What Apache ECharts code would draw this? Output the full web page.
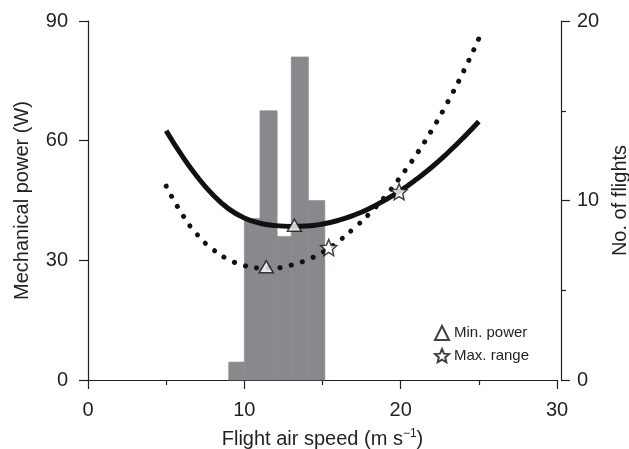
<!DOCTYPE html>
<html lang="en">
<head>
    <meta charset="UTF-8">
    <script src="https://cdn.jsdelivr.net/npm/echarts@6/dist/echarts.min.js"></script>
    <title>Mechanical power vs flight air speed</title>
    <style>
        html, body { margin: 0; padding: 0; background: #fff; }
        #main { width: 629px; height: 449px; }
    </style>
</head>
<body>
    <div id="main"></div>
    <script>
        // histogram of flights: [bin start, bin end, count]
        var flightBins = [
            [9, 10, 1],
            [10, 11, 9],
            [11, 12.1, 15],
            [12.1, 13, 8],
            [13, 14.1, 18],
            [14.1, 15.15, 10]
        ];

        // power curves: [speed, power]
        var solidCurve = [
            [5, 62.5], [6, 56.3], [7, 50.9], [8, 46.4], [9, 42.9], [10, 40.6], [11, 39.3],
            [12, 38.7], [13, 38.5], [14, 38.6], [15, 39.1], [16, 40], [17, 41.3],
            [18, 43], [19, 45.1], [20, 47.5], [21, 50.3], [22, 53.4], [23, 56.9],
            [24, 60.7], [25, 64.8]
        ];
        var dottedCurve = [
            [5, 48.6], [6, 41.7], [7, 36.4], [8, 32.7], [9, 30.2], [10, 28.7], [11, 28.1],
            [12, 28.1], [13, 28.8], [14, 30.1], [15, 32], [16, 34.7], [17, 38],
            [18, 41.7], [19, 46], [20, 51], [21, 56.5], [22, 62.7], [23, 69.6],
            [24, 77.2], [25, 85.6]
        ];

        var minPower = [[11.4, 28.4], [13.2, 38.8]];
        var maxRange = [[15.4, 33.2], [19.9, 47.2]];

        var ink = '#231f20';
        var font = 'Liberation Sans, Arial, Helvetica, sans-serif';
        var starPath = 'path://M50 0 L63.5 31.4 L97.55 34.55 L71.8 57 L79.39 90.45 L50 73 L20.61 90.45 L28.2 57 L2.45 34.55 L36.5 31.4 Z';

        var chart = echarts.init(document.getElementById('main'));

        var axisBase = {
            axisLine: { show: true, lineStyle: { color: ink, width: 1.2 } },
            axisTick: { show: true, length: 9, lineStyle: { color: ink, width: 1.2 } },
            axisLabel: { color: ink, fontSize: 20, fontFamily: font, margin: 16 },
            splitLine: { show: false },
            nameTextStyle: { color: ink, fontSize: 20, fontFamily: font }
        };

        var option = {
            animation: false,
            backgroundColor: '#fff',
            grid: { left: 88, right: 72, top: 21, bottom: 69, outerBoundsMode: 'none' },
            legend: {
                orient: 'vertical',
                left: 434,
                top: 325,
                padding: 0,
                itemWidth: 14,
                itemHeight: 14,
                itemGap: 7,
                textStyle: { color: ink, fontSize: 15, fontFamily: font },
                data: ['Min. power', 'Max. range']
            },
            xAxis: Object.assign({}, axisBase, {
                type: 'value',
                min: 0, max: 30, interval: 10,
                offset: 4,
                minorTick: { show: true, splitNumber: 2, length: 5, lineStyle: { color: ink, width: 1.2 } },
                name: '{a|Flight air speed (m s}{s|\u22121}{a|)}',
                nameLocation: 'middle',
                nameGap: 44,
                nameTextStyle: {
                    color: ink, fontFamily: font,
                    rich: {
                        a: { fontSize: 20, fontFamily: font, color: ink, lineHeight: 22 },
                        s: { fontSize: 12, fontFamily: font, color: ink, verticalAlign: 'top', lineHeight: 22 }
                    }
                }
            }),
            yAxis: [
                Object.assign({}, axisBase, {
                    type: 'value',
                    position: 'left',
                    min: 0, max: 90, interval: 30,
                    offset: 4,
                    name: 'Mechanical power (W)',
                    nameLocation: 'middle',
                    nameRotate: 90,
                    nameGap: 52
                }),
                Object.assign({}, axisBase, {
                    type: 'value',
                    position: 'right',
                    min: 0, max: 20, interval: 10,
                    offset: 4,
                    minorTick: { show: true, splitNumber: 2, length: 5, lineStyle: { color: ink, width: 1.2 } },
                    name: 'No. of flights',
                    nameLocation: 'middle',
                    nameRotate: 90,
                    nameGap: 46
                })
            ],
            series: [
                {
                    name: 'Flights',
                    type: 'custom',
                    yAxisIndex: 1,
                    z: 1,
                    data: flightBins,
                    renderItem: function (params, api) {
                        var p0 = api.coord([api.value(0), api.value(2)]);
                        var p1 = api.coord([api.value(1), 0]);
                        return {
                            type: 'rect',
                            shape: { x: p0[0], y: p0[1], width: p1[0] - p0[0], height: p1[1] - p0[1] },
                            style: { fill: '#88898d', stroke: '#88898d', lineWidth: 0.6 }
                        };
                    }
                },
                {
                    name: 'Power',
                    type: 'line',
                    z: 3,
                    smooth: 0.5,
                    symbol: 'none',
                    data: solidCurve,
                    lineStyle: { color: '#111', width: 5 }
                },
                {
                    name: 'Power range',
                    type: 'line',
                    z: 3,
                    smooth: 0.5,
                    symbol: 'none',
                    data: dottedCurve,
                    lineStyle: { color: '#111', width: 5, type: [0.1, 11.5], cap: 'round' }
                },
                {
                    name: 'Min. power',
                    type: 'scatter',
                    z: 5,
                    symbol: 'triangle',
                    symbolSize: [14, 12],
                    data: minPower,
                    itemStyle: { color: '#fff', borderColor: '#111', borderWidth: 1.5 }
                },
                {
                    name: 'Max. range',
                    type: 'scatter',
                    z: 5,
                    symbol: starPath,
                    symbolSize: 16,
                    data: maxRange,
                    itemStyle: { color: '#fff', borderColor: '#111', borderWidth: 1.5 }
                }
            ]
        };

        chart.setOption(option);
    </script>
</body>
</html>
